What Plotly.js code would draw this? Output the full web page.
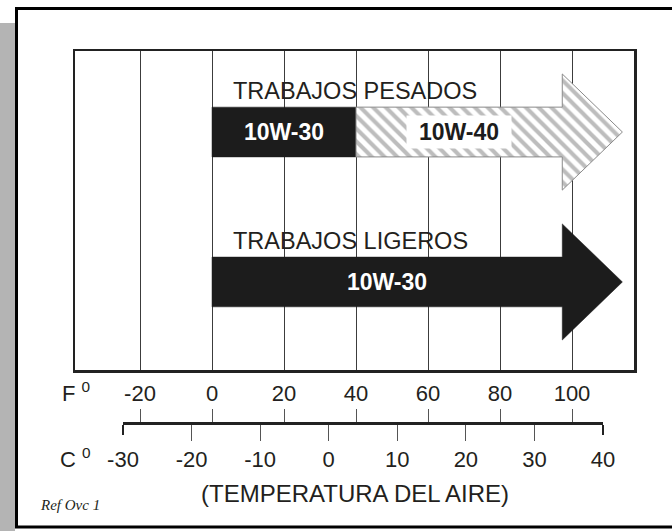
<!DOCTYPE html>
<html>
<head>
<meta charset="utf-8">
<script src="https://cdn.plot.ly/plotly-3.0.1.min.js"></script>
<style>html,body{margin:0;padding:0;background:#fff;}#chart{width:672px;height:531px;}</style>
</head>
<body>
<div id="chart"></div>
<script>
// ---- data ----
const fTicks = [-20, 0, 20, 40, 60, 80, 100];
const fTickText = ['-20', '0', '20', '40', '60', '80', '100'];
const cTicks = [-30, -20, -10, 0, 10, 20, 30, 40];
const cTickText = ['-30', '-20', '-10', '0', '10', '20', '30', '40'];
const rowNames = ['TRABAJOS PESADOS', 'TRABAJOS LIGEROS'];
const heavyGrades = ['10W-30', '10W-40'];
const heavyStart = [0, 40];
const heavyEnd = [40, 114];
const lightGrades = ['10W-30'];
const lightStart = [0];
const lightEnd = [114];

// ---- style / layout constants ----
const FONT = 'Liberation Sans, Arial, Helvetica, sans-serif';
const W = 672, H = 531;
const M = {l: 75, r: 38, t: 51, b: 108};
const PW = W - M.l - M.r, PH = H - M.t - M.b;
const px2x = p => (p - M.l) / PW;
const px2y = p => (H - M.b - p) / PH;
const rowY = [7.46, 2.76];
const headLen = 16.7, bodyHalf = 0.78, headHalf = 1.82;

function arrowPoly(s, e, yc, isLast) {
  if (!isLast) {
    return {x: [s, e, e, s, s], y: [yc + bodyHalf, yc + bodyHalf, yc - bodyHalf, yc - bodyHalf, yc + bodyHalf]};
  }
  const b = e - headLen;
  return {
    x: [s, b, b, e, b, b, s, s],
    y: [yc + bodyHalf, yc + bodyHalf, yc + headHalf, yc, yc - headHalf, yc - bodyHalf, yc - bodyHalf, yc + bodyHalf]
  };
}

const traces = [];
const annotations = [];

function addRow(grades, starts, ends, yc, styles) {
  grades.forEach((g, i) => {
    const isLast = i === grades.length - 1;
    const p = arrowPoly(starts[i], ends[i], yc, isLast);
    const st = styles[i];
    const t = {
      type: 'scatter', mode: 'lines', x: p.x, y: p.y, fill: 'toself',
      hoverinfo: 'skip', showlegend: false, xaxis: 'x', yaxis: 'y'
    };
    if (st.hatch) {
      t.fillcolor = '#ffffff';
      t.fillpattern = {shape: '\\', fgcolor: '#bdbdbd', bgcolor: '#ffffff', size: 9, solidity: 0.45};
      t.line = {color: '#8a8a8a', width: 1};
    } else {
      t.fillcolor = '#1c1c1c';
      t.line = {color: '#1c1c1c', width: 0.5};
    }
    traces.push(t);
    const bodyEnd = isLast ? ends[i] - headLen : ends[i];
    const ann = {
      x: (starts[i] + bodyEnd) / 2, y: yc, xref: 'x', yref: 'y', showarrow: false,
      text: '<b>' + g + '</b>',
      font: {family: FONT, size: 23, color: st.hatch ? '#1c1c1c' : '#ffffff'}
    };
    if (st.hatch) { ann.bgcolor = '#ffffff'; ann.width = 102; ann.height = 30; }
    annotations.push(ann);
  });
}

addRow(heavyGrades, heavyStart, heavyEnd, rowY[0], [{hatch: false}, {hatch: true}]);
addRow(lightGrades, lightStart, lightEnd, rowY[1], [{hatch: false}]);

rowNames.forEach((n, i) => {
  annotations.push({
    x: Math.min(...(i === 0 ? heavyStart : lightStart)), y: rowY[i], xref: 'x', yref: 'y',
    xanchor: 'left', yanchor: 'middle', xshift: 19, yshift: 41, showarrow: false,
    text: n, font: {family: FONT, size: 23.5, color: '#231f20'}
  });
});

// invisible traces so the extra axes are drawn
traces.push({type: 'scatter', mode: 'markers', x: cTicks, y: cTicks.map(() => null), xaxis: 'x2', yaxis: 'y', hoverinfo: 'skip', showlegend: false, marker: {opacity: 0}});
traces.push({type: 'scatter', mode: 'markers', x: fTicks, y: fTicks.map(() => null), xaxis: 'x3', yaxis: 'y', hoverinfo: 'skip', showlegend: false, marker: {opacity: 0}});
traces.push({type: 'scatter', mode: 'markers', x: cTicks, y: cTicks.map(() => null), xaxis: 'x4', yaxis: 'y', hoverinfo: 'skip', showlegend: false, marker: {opacity: 0}});

const fRange = [(M.l - 212) / 3.6, (W - M.r - 212) / 3.6];
const cDomain = [px2x(123), px2x(603)];

annotations.push({xref: 'paper', yref: 'paper', x: px2x(60), y: px2y(392), xanchor: 'left', yanchor: 'middle', showarrow: false,
  text: 'F <sup>0</sup>', font: {family: FONT, size: 22, color: '#231f20'}});
annotations.push({xref: 'paper', yref: 'paper', x: px2x(58), y: px2y(458), xanchor: 'left', yanchor: 'middle', showarrow: false,
  text: 'C <sup>0</sup>', font: {family: FONT, size: 22, color: '#231f20'}});
annotations.push({xref: 'paper', yref: 'paper', x: px2x(355), y: px2y(493), xanchor: 'center', yanchor: 'middle', showarrow: false,
  text: '(TEMPERATURA DEL AIRE)', font: {family: FONT, size: 24, color: '#231f20'}});
annotations.push({xref: 'paper', yref: 'paper', x: px2x(38), y: px2y(505), xanchor: 'left', yanchor: 'middle', showarrow: false,
  text: '<i>Ref Ovc 1</i>', font: {family: 'Liberation Serif, Times New Roman, serif', size: 15, color: '#231f20'}});

const shapes = [
  {type: 'rect', xref: 'paper', yref: 'paper', x0: px2x(0), x1: px2x(15), y0: px2y(535), y1: px2y(23),
   fillcolor: '#b4b4b4', line: {width: 0}, layer: 'below'},
  {type: 'rect', xref: 'paper', yref: 'paper', x0: px2x(16.5), x1: px2x(690), y0: px2y(527), y1: px2y(8.5),
   fillcolor: 'rgba(0,0,0,0)', line: {color: '#000000', width: 3}, layer: 'below'}
];

const layout = {
  width: W, height: H, margin: M,
  paper_bgcolor: '#ffffff', plot_bgcolor: 'rgba(0,0,0,0)',
  showlegend: false,
  font: {family: FONT, color: '#231f20'},
  xaxis: {
    domain: [0, 1], range: fRange, anchor: 'y', tickmode: 'array', tickvals: fTicks, ticktext: fTickText,
    ticks: '', showgrid: true, gridcolor: '#3c3c3c', gridwidth: 1, zeroline: false,
    showline: true, mirror: true, linecolor: '#222', linewidth: 2.5,
    tickfont: {family: FONT, size: 22, color: '#231f20'}, ticklabelstandoff: 2
  },
  yaxis: {
    domain: [px2y(370), 1], range: [0, 10], anchor: 'x', showgrid: false, zeroline: false,
    showticklabels: false, ticks: '', showline: true, mirror: true, linecolor: '#222', linewidth: 2.5
  },
  xaxis2: {
    domain: cDomain, range: [-30, 40], anchor: 'free', position: 0, tickmode: 'array',
    tickvals: cTicks.slice(1, -1), ticks: 'outside', ticklen: 16, tickwidth: 1, tickcolor: '#555',
    showticklabels: false, showgrid: false, zeroline: false,
    showline: true, linecolor: '#222', linewidth: 2.5,
    minor: {tickmode: 'array', tickvals: [cTicks[0], cTicks[cTicks.length - 1]], ticks: 'outside', ticklen: 10, tickwidth: 2.5, tickcolor: '#222'}
  },
  xaxis3: {
    overlaying: 'x', range: fRange, anchor: 'free', position: 0, tickmode: 'array', tickvals: fTicks,
    ticks: 'inside', ticklen: 14, tickwidth: 1, tickcolor: '#555', showticklabels: false,
    showgrid: false, zeroline: false, showline: false
  },
  xaxis4: {
    domain: cDomain, range: [-30, 40], anchor: 'free', position: 0, tickmode: 'array',
    tickvals: cTicks, ticktext: cTickText, ticks: '', showgrid: false, zeroline: false, showline: false,
    tickfont: {family: FONT, size: 22, color: '#231f20'}, ticklabelstandoff: 21
  },
  shapes: shapes,
  annotations: annotations
};

Plotly.newPlot('chart', traces, layout, {staticPlot: true, displayModeBar: false});
</script>
</body>
</html>
